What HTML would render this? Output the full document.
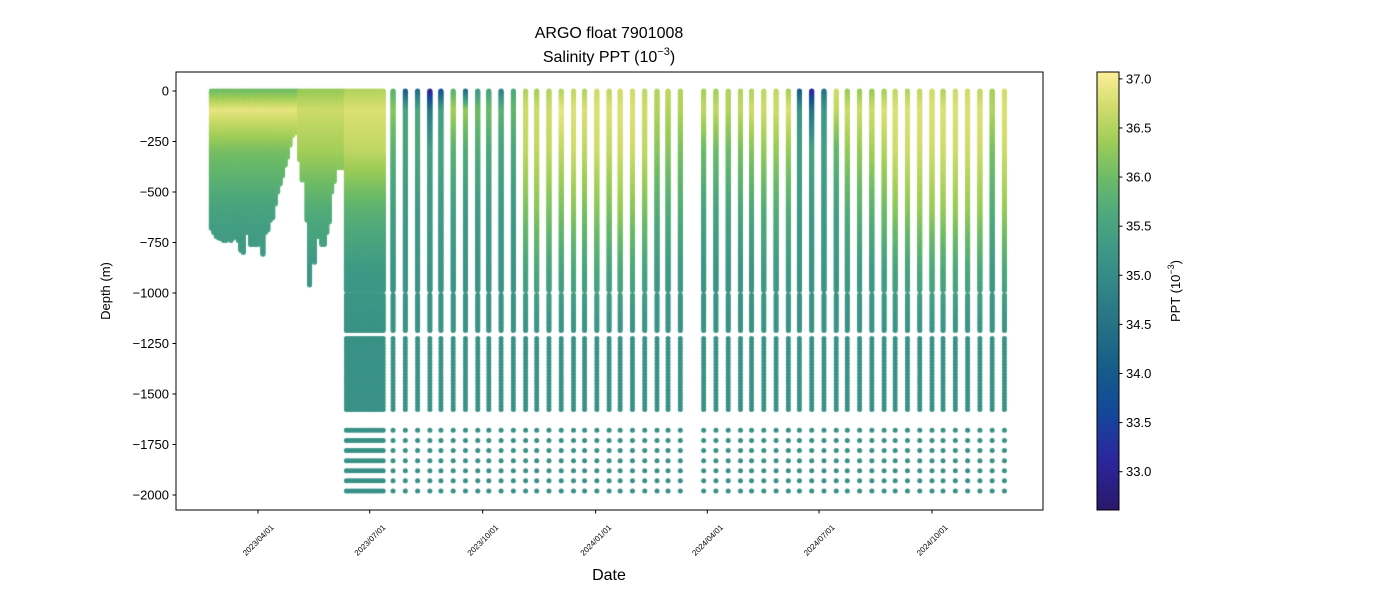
<!DOCTYPE html>
<html><head><meta charset="utf-8"><style>
body{margin:0;background:#fff;}
#wrap{position:relative;width:1400px;height:600px;font-family:"Liberation Sans","DejaVu Sans",sans-serif;}
canvas,svg{position:absolute;left:0;top:0;}
</style></head><body>
<div id="wrap">
<canvas id="cv" width="1400" height="600"></canvas>
<svg id="sv" width="1400" height="600"></svg>
</div>
<script>
const depthKeys = [0, 100, 300, 600, 900, 1200, 2000];
const earlyDays = [52,54,56,58,60,62,64,66,68,70,72,74,76,78,80,82,84,86,88,90,92,94,96,98,100,102,104,106,108,110,112,114,116,118,120,122,124,126,128,130,132,134,136,138,140,142,144,146,148,150,152,154,156,158,160];
const earlyMaxDepth = [680,700,720,730,735,740,740,735,740,730,720,740,790,800,700,700,760,760,760,760,720,810,700,690,640,630,560,500,460,420,370,330,270,220,210,170,340,440,440,640,960,700,850,720,720,760,760,700,650,500,450,380,380,380,380];
const earlySalA = [36.0, 36.9, 36.1, 35.5, 35.2, 35.15, 35.1];
const earlySalB = [36.3, 36.7, 36.4, 35.7, 35.25, 35.15, 35.1];
const denseDays = [162,164,166,168,170,172,174,176,178,180,182,184,186,188,190,192];
const denseSal = [36.5, 36.8, 36.6, 35.8, 35.3, 35.15, 35.1];
const sparseDays = [200,210,220,230,239,249,259,269,278,288,298,308,317,327,337,347,356,366,376,385,395,405,415,424,434,453,463,473,483,492,502,512,522,531,541,551,561,570,580,590,600,609,619,629,639,648,658,668,678,688,698];
const sparseSal = [
[35.8,36.2,35.8,35.4,35.2,35.15,35.1],
[34.0,35.5,35.5,35.3,35.2,35.15,35.1],
[34.3,35.6,35.6,35.3,35.2,35.15,35.1],
[32.9,34.6,35.4,35.3,35.2,35.15,35.1],
[33.8,35.4,35.5,35.3,35.2,35.15,35.1],
[35.8,36.4,35.8,35.4,35.2,35.15,35.1],
[34.3,36.3,35.7,35.3,35.2,35.15,35.1],
[35.3,36.0,35.7,35.3,35.2,35.15,35.1],
[35.5,36.0,35.6,35.3,35.2,35.15,35.1],
[34.8,35.8,35.5,35.3,35.2,35.15,35.1],
[35.6,35.9,35.6,35.3,35.2,35.15,35.1],
[36.5,36.7,36.6,36.1,35.5,35.15,35.1],
[36.4,36.7,36.6,36.2,35.6,35.15,35.1],
[36.5,36.7,36.6,36.1,35.5,35.15,35.1],
[36.5,36.9,36.6,36.1,35.5,35.15,35.1],
[36.6,36.8,36.7,36.2,35.6,35.15,35.1],
[36.5,36.8,36.6,36.1,35.5,35.15,35.1],
[36.7,36.8,36.7,36.2,35.6,35.15,35.1],
[36.6,36.8,36.6,36.1,35.5,35.15,35.1],
[36.7,36.8,36.7,36.3,35.6,35.15,35.1],
[36.7,36.8,36.7,36.2,35.6,35.15,35.1],
[36.6,36.7,36.6,36.1,35.5,35.15,35.1],
[36.5,36.5,36.2,35.7,35.3,35.15,35.1],
[36.6,36.5,36.2,35.7,35.3,35.15,35.1],
[36.5,36.5,36.1,35.7,35.3,35.15,35.1],
[36.4,36.6,36.0,35.5,35.2,35.15,35.1],
[36.4,36.6,36.0,35.5,35.2,35.15,35.1],
[36.5,36.5,36.0,35.5,35.2,35.15,35.1],
[36.5,36.6,36.1,35.6,35.2,35.15,35.1],
[36.5,36.7,36.2,35.6,35.2,35.15,35.1],
[36.6,36.7,36.3,35.7,35.3,35.15,35.1],
[36.6,36.7,36.3,35.7,35.3,35.15,35.1],
[36.4,36.8,36.3,35.7,35.3,35.15,35.1],
[34.0,35.2,35.4,35.3,35.2,35.15,35.1],
[33.0,34.5,35.5,35.3,35.2,35.15,35.1],
[34.5,35.2,35.4,35.3,35.2,35.15,35.1],
[36.7,36.6,35.9,35.4,35.2,35.15,35.1],
[36.3,36.7,36.3,35.7,35.3,35.15,35.1],
[36.3,36.7,36.3,35.8,35.3,35.15,35.1],
[36.3,36.7,36.4,35.8,35.3,35.15,35.1],
[36.4,36.8,36.5,36.0,35.4,35.15,35.1],
[36.6,36.8,36.7,36.2,35.5,35.15,35.1],
[36.5,36.8,36.7,36.2,35.5,35.15,35.1],
[36.6,36.8,36.7,36.3,35.6,35.15,35.1],
[36.7,36.8,36.7,36.3,35.6,35.15,35.1],
[36.5,36.8,36.7,36.3,35.6,35.15,35.1],
[36.7,36.8,36.7,36.3,35.6,35.15,35.1],
[36.7,36.8,36.7,36.3,35.6,35.15,35.1],
[36.6,36.8,36.7,36.3,35.6,35.15,35.1],
[36.4,36.5,36.1,35.7,35.3,35.15,35.1],
[36.7,36.8,36.7,36.3,35.6,35.15,35.1]
];
const yTicks = [0,-250,-500,-750,-1000,-1250,-1500,-1750,-2000];
const xTickDays = [90,181,273,365,456,547,639];
const xTickLabels = ["2023/04/01","2023/07/01","2023/10/01","2024/01/01","2024/04/01","2024/07/01","2024/10/01"];
const cbTicks = [33.0,33.5,34.0,34.5,35.0,35.5,36.0,36.5,37.0];
const cMin = 32.61, cMax = 37.07;

const L=176,R=1043,T=72,B=510;
function xS(d){return 258+(d-90)*1.2277;}
function yS(z){return 91+(-z)*0.202;}
const stops=[[0,'#29186b'],[0.12,'#2c279f'],[0.22,'#13479a'],[0.32,'#165c8a'],[0.42,'#257185'],[0.52,'#338887'],[0.6,'#3f9986'],[0.68,'#4fa97c'],[0.76,'#6dbb68'],[0.84,'#9ecd58'],[0.92,'#d0dc6c'],[1,'#fdee99']];
function hex(h){return [1,3,5].map(i=>parseInt(h.substr(i,2),16));}
function cmap(s){let t=(s-cMin)/(cMax-cMin);t=Math.max(0,Math.min(1,t));
 for(let i=1;i<stops.length;i++){if(t<=stops[i][0]){const a=stops[i-1],b=stops[i];const f=(t-a[0])/(b[0]-a[0]);const ca=hex(a[1]),cb=hex(b[1]);return 'rgb('+ca.map((v,k)=>Math.round(v+(cb[k]-v)*f)).join(',')+')';}}
 return stops[stops.length-1][1];}
function salAt(sal,z){for(let i=1;i<depthKeys.length;i++){if(z<=depthKeys[i]){const f=(z-depthKeys[i-1])/(depthKeys[i]-depthKeys[i-1]);return sal[i-1]+(sal[i]-sal[i-1])*f;}}return sal[sal.length-1];}
function depths(maxD,deep){const a=[];
 for(let z=0;z<=Math.min(maxD,990);z+=4)a.push(z);
 if(deep){for(let z=1010;z<=1190;z+=8)a.push(z);for(let z=1225;z<=1580;z+=16)a.push(z);for(let z=1680;z<=1980;z+=50)a.push(z);}
 return a;}
const ctx=document.getElementById('cv').getContext('2d');
ctx.save();ctx.beginPath();ctx.rect(L,T,R-L,B-T);ctx.clip();
function drawProfile(day,maxD,deep,sal){const x=xS(day);
 for(const z of depths(maxD,deep)){ctx.fillStyle=cmap(salAt(sal,z));ctx.beginPath();ctx.arc(x,yS(-z),2.5,0,Math.PI*2);ctx.fill();}}
earlyDays.forEach((d,i)=>drawProfile(d,earlyMaxDepth[i],false,d<123?earlySalA:earlySalB));
denseDays.forEach(d=>drawProfile(d,1980,true,denseSal));
sparseDays.forEach((d,i)=>drawProfile(d,1980,true,sparseSal[i]));
ctx.restore();

const NS='http://www.w3.org/2000/svg';
const sv=document.getElementById('sv');
function el(tag,attrs,txt){const e=document.createElementNS(NS,tag);for(const k in attrs)e.setAttribute(k,attrs[k]);if(txt!==undefined)e.textContent=txt;sv.appendChild(e);return e;}
let e;
e=el('rect',{x:L,y:T,width:R-L,height:B-T,fill:'none',stroke:'#000','stroke-width':1});


yTicks.forEach(v=>{const y=yS(v);
 e=el('line',{x1:L-3.5,x2:L,y1:y,y2:y,stroke:'#000'});
 
 
 e=el('text',{x:L-7,y:y+4.5,'text-anchor':'end','font-size':13,fill:'#000'},String(v).replace('-','\u2212'));
 
 
});
xTickDays.forEach((d,i)=>{const x=xS(d);
 e=el('line',{x1:x,x2:x,y1:B,y2:B+3.5,stroke:'#000'});
 
 
 e=el('text',{x:x,y:543,'text-anchor':'middle','font-size':8,fill:'#000',transform:'rotate(-45 '+x+' 540)'},xTickLabels[i]);
 
 
});
e=el('text',{x:609,y:580,'text-anchor':'middle','font-size':16,fill:'#000'},'Date');


e=el('text',{x:110,y:291,'text-anchor':'middle','font-size':13,fill:'#000',transform:'rotate(-90 110 291)'},'Depth (m)');


e=el('text',{x:609,y:38,'text-anchor':'middle','font-size':16,fill:'#000'},'ARGO float 7901008');


e=el('text',{x:609,y:62,'text-anchor':'middle','font-size':16,fill:'#000'});


e.innerHTML='Salinity PPT (10<tspan dy="-7" font-size="11">\u22123</tspan><tspan dy="7">)</tspan>';
const defs=el('defs',{});
const g=document.createElementNS(NS,'linearGradient');g.setAttribute('id','cbg');g.setAttribute('x1',0);g.setAttribute('y1',1);g.setAttribute('x2',0);g.setAttribute('y2',0);defs.appendChild(g);
stops.forEach(s=>{const st=document.createElementNS(NS,'stop');st.setAttribute('offset',s[0]);st.setAttribute('stop-color',s[1]);g.appendChild(st);});
e=el('rect',{x:1097,y:72,width:22,height:438,fill:'url(#cbg)',stroke:'#000','stroke-width':1});


cbTicks.forEach(v=>{const y=510-(v-cMin)/(cMax-cMin)*438;
 e=el('line',{x1:1119,x2:1122.5,y1:y,y2:y,stroke:'#000'});
 
 
 e=el('text',{x:1126,y:y+4.5,'font-size':13,fill:'#000'},v.toFixed(1));
 
 
});
e=el('text',{x:1180,y:291,'text-anchor':'middle','font-size':13,fill:'#000',transform:'rotate(-90 1180 291)'});


e.innerHTML='PPT (10<tspan dy="-6" font-size="9">\u22123</tspan><tspan dy="6">)</tspan>';
</script>
</body></html>
